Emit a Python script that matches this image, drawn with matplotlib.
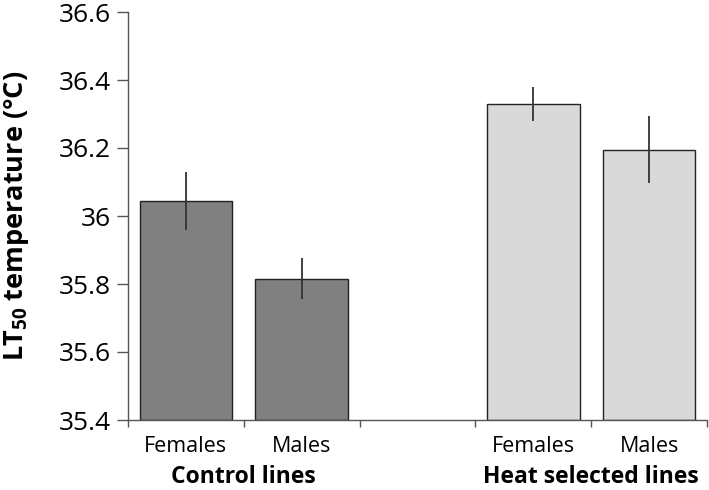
import matplotlib
matplotlib.use("Agg")
import matplotlib.pyplot as plt
import matplotlib.transforms as mtransforms

plt.rcParams['font.family'] = ['Open Sans', 'DejaVu Sans']
plt.rcParams['mathtext.fontset'] = 'custom'
plt.rcParams['mathtext.rm'] = 'Open Sans'
plt.rcParams['mathtext.bf'] = 'Open Sans:bold'

categories = ["Females", "Males", "Females", "Males"]
groups = ["Control lines", "Heat selected lines"]
values = [36.043, 35.816, 36.329, 36.195]
errors = [0.085, 0.060, 0.051, 0.098]
colors = ["#808080", "#808080", "#d9d9d9", "#d9d9d9"]
positions = [0, 1, 3, 4]
yticks = [35.4, 35.6, 35.8, 36.0, 36.2, 36.4, 36.6]
ytick_labels = ["35.4", "35.6", "35.8", "36", "36.2", "36.4", "36.6"]

fig = plt.figure(figsize=(7.09, 4.90), dpi=100)
ax = fig.add_axes([128/709, 70/490, 579/709, 408/490])

base = 35.4
ax.bar(positions, [v - base for v in values], bottom=base, width=0.8,
       color=colors, edgecolor="#222222", linewidth=1.0, zorder=2)
ax.errorbar(positions, values, yerr=errors, fmt="none", ecolor="#333333",
            elinewidth=1.3, capsize=0, zorder=3)

ax.set_xlim(-0.5, 4.5)
ax.set_ylim(35.4, 36.6)
ax.set_yticks(yticks)
ax.set_yticklabels(ytick_labels, fontsize=19)
ax.tick_params(axis='y', direction='out', length=8, width=1.0, color="#555555", pad=4)

ax.set_xticks(positions)
ax.set_xticklabels(categories, fontsize=15.5)
ax.tick_params(axis='x', which='major', length=0, pad=11.5)
ax.set_xticks([-0.5, 0.5, 1.5, 2.5, 3.5, 4.5], minor=True)
ax.tick_params(axis='x', which='minor', direction='out', length=5, width=1.0, color="#555555")

for s in ['top', 'right']:
    ax.spines[s].set_visible(False)
for s in ['left', 'bottom']:
    ax.spines[s].set_color("#555555")
    ax.spines[s].set_linewidth(1.0)

trans = mtransforms.blended_transform_factory(ax.transData, fig.transFigure)
ax.text(0.5, 1 - 483/490, groups[0], transform=trans, ha='center', va='baseline',
        fontsize=16.5, fontweight='bold')
ax.text(3.5, 1 - 483/490, groups[1], transform=trans, ha='center', va='baseline',
        fontsize=16.5, fontweight='bold')

ax.set_ylabel(r'LT$_{\mathbf{50}}$ temperature (°C)', fontsize=19.5, fontweight='bold')
ax.yaxis.set_label_coords((31 - 128) / 579, 0.5)

fig.savefig("out.png", dpi=100)
